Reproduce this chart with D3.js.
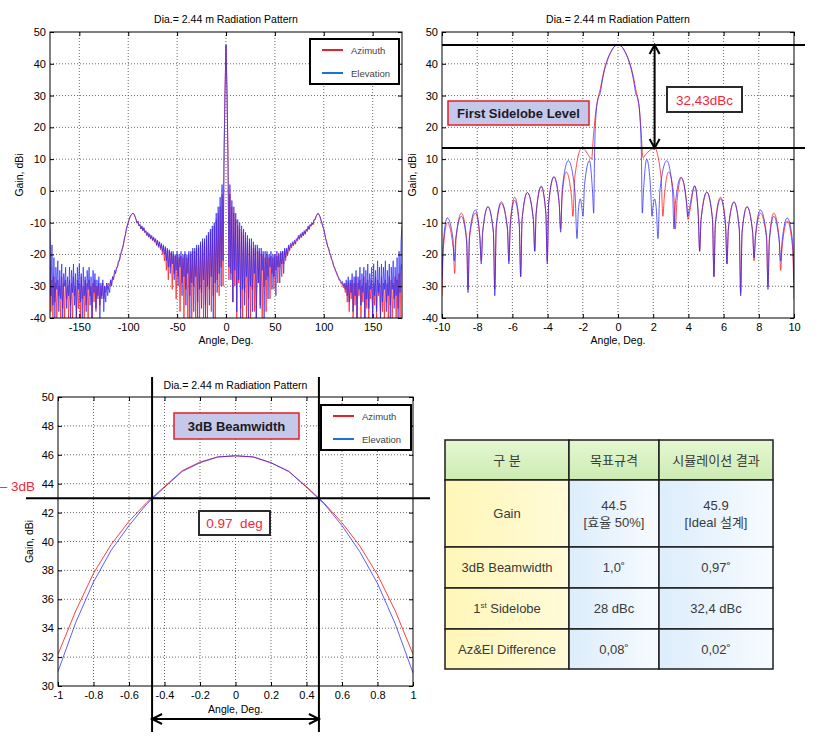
<!DOCTYPE html>
<html><head><meta charset="utf-8">
<script src="https://cdn.jsdelivr.net/npm/d3@7/dist/d3.min.js"></script>
<style>
body{margin:0;background:#fff}
svg{display:block}
text{font-family:"Liberation Sans",Arial,"Noto Sans CJK KR",sans-serif}
</style>
</head><body>
<svg id="c" width="817" height="736"></svg>
<script>
// ---------------- DATA ----------------
const titleText = "Dia.= 2.44 m Radiation Pattern";
const seriesNames = ["Azimuth", "Elevation"];
const xLabel = "Angle, Deg.";
const yLabel = "Gain, dBi";

// full pattern (-180..180, 1 deg)
const fullAngles = d3.range(-180, 181, 1);
const fullXTicks = [-150, -100, -50, 0, 50, 100, 150];
const gainTicks = [-40, -30, -20, -10, 0, 10, 20, 30, 40, 50];
const fullEl = [
 -12,-33,-17,-36,-21,-40,-24,-31,-22,-38,
 -25,-34,-23,-40,-26,-30,-24,-37,-27,-33,
 -24,-40,-25,-32,-23,-36,-26,-40,-24,-31,
 -23,-35,-26,-40,-24,-33,-27,-38,-25,-31,
 -24,-36,-27,-40,-25,-32,-26,-37,-28,-33,
 -27,-40,-29,-34,-28,-38,-30,-35,-29,-33,
 -30,-32,-28,-30,-27,-28,-25,-26,-24,-24,
 -22,-22,-20,-19,-18,-17,-15,-14,-12,-11,
 -10,-9,-8,-7.5,-7.2,-7,-7.3,-8,-9,-10,
 -9.5,-11,-10.5,-12,-11,-12.5,-11.5,-13,-12.5,-14,
 -13,-14.5,-13.5,-15,-14,-15.5,-14.5,-16,-15,-17,
 -15.5,-17.5,-16,-18,-16.5,-19,-17,-20,-17.5,-22,
 -18,-24,-18.5,-26,-19,-23,-19,-28,-20,-25,
 -19,-30,-20,-24,-19,-33,-20,-27,-19,-36,
 -20,-26,-19,-40,-19,-29,-18,-38,-18,-27,
 -17,-40,-17,-31,-16,-37,-15,-28,-15,-40,
 -14,-30,-13,-36,-12,-27,-11,-40,-10,-29,
 -7,-32,-5,-26,-2,-30,2,-22,9,31,
 46,
 31,9.5,-24,2,-28,-3,-35,-5,-25,-7,
 -38,-9,-28,-10,-40,-11,-31,-12,-36,-13,
 -27,-14,-40,-15,-30,-15,-38,-16,-26,-17,
 -40,-17,-29,-18,-37,-18,-25,-19,-40,-19,
 -28,-19,-34,-20,-24,-19,-31,-20,-27,-20,
 -33,-19,-24,-20,-29,-19,-23,-19,-26,-18,
 -21,-18,-20,-17,-18.5,-16.5,-17.5,-16,-17,-15.5,
 -16.5,-15,-15.5,-14,-15,-13.5,-14.5,-13,-14,-12.5,
 -13.5,-12,-12.5,-11,-12,-10.5,-11,-10,-10.5,-9,
 -9,-8,-7.5,-7,-7.3,-8,-9,-10,-11,-12,
 -13.5,-15,-16,-17.5,-18,-19.5,-20,-21.5,-22,-23.5,
 -24,-25,-25.5,-26.5,-27,-28,-28,-29,-28.5,-30,
 -29,-31,-28,-33,-27,-35,-28,-32,-26,-38,
 -27,-33,-25,-40,-27,-31,-24,-36,-26,-32,
 -24,-40,-25,-34,-23,-37,-26,-31,-24,-40,
 -23,-33,-25,-38,-22,-32,-24,-40,-23,-35,
 -24,-31,-22,-38,-25,-33,-23,-40,-24,-31,
 -22,-37,-24,-33,-21,-40,-19,-32,-16,-11
];
const fullAz = [
 -24,-38,-28,-40,-27,-35,-29,-40,-28,-33,
 -30,-40,-27,-37,-29,-40,-28,-34,-30,-40,
 -28,-36,-29,-40,-27,-33,-30,-40,-28,-37,
 -29,-40,-27,-34,-30,-40,-28,-36,-29,-40,
 -28,-33,-30,-40,-29,-35,-28,-38,-30,-34,
 -29,-36,-30,-33,-29,-34,-30,-32,-29,-31,
 -29,-30,-28,-29.5,-27,-27.5,-26,-26,-24.5,-24,
 -22.5,-22,-20.5,-19.5,-18.5,-17,-15.5,-14,-12.5,-11,
 -10,-9,-8.2,-7.6,-7.2,-7.1,-7.4,-8.2,-9,-10.2,
 -9.7,-11,-10.7,-12,-11.3,-12.6,-11.8,-13.2,-12.7,-14,
 -13.3,-14.6,-13.8,-15.2,-14.3,-15.7,-14.8,-16.2,-15.3,-17.2,
 -15.8,-17.8,-16.3,-18.5,-17,-20,-17.5,-22,-18,-25,
 -18.5,-28,-19,-24,-19.5,-31,-20,-26,-20.5,-34,
 -20,-27,-21,-38,-20.5,-29,-21,-40,-20,-31,
 -21,-40,-20,-33,-20,-40,-19,-30,-19,-40,
 -18,-35,-18,-40,-17,-32,-16,-40,-16,-36,
 -15,-40,-14,-31,-13,-38,-12,-33,-11,-40,
 -9,-28,-7,-33,-5,-24,-1,-30,13.7,32.2,
 45.9,
 32.2,13.5,-28,-1,-26,-5,-35,-7,-30,-9,
 -40,-11,-29,-12,-37,-13,-40,-14,-32,-15,
 -40,-16,-34,-16,-40,-17,-31,-18,-38,-18,
 -40,-19,-29,-19,-36,-20,-40,-20,-30,-21,
 -38,-20,-27,-21,-34,-20.5,-26,-21,-31,-20,
 -25,-20.5,-29,-19.5,-24,-19.5,-27,-19,-23,-18.5,
 -22,-18.3,-20.5,-17.5,-19,-17,-18,-16.5,-17.3,-16,
 -16.8,-15.4,-15.8,-14.5,-15.3,-14,-14.8,-13.4,-14.2,-12.9,
 -13.7,-12.3,-12.8,-11.4,-12.2,-10.8,-11.2,-10.2,-10.7,-9.2,
 -9.2,-8.2,-7.6,-7.1,-7.4,-8.1,-9.1,-10.1,-11.2,-12.2,
 -13.6,-15.2,-16.3,-17.6,-18.3,-19.6,-20.4,-21.6,-22.4,-23.6,
 -24.3,-25.2,-26,-26.8,-27.4,-28.3,-28.6,-29.4,-29,-30.5,
 -29.5,-32,-29,-35,-28.5,-38,-29,-34,-28,-40,
 -29,-36,-27,-40,-29,-33,-28,-40,-30,-35,
 -27,-40,-29,-37,-28,-40,-30,-34,-28,-40,
 -29,-36,-27,-40,-28,-33,-29,-40,-27,-38,
 -29,-40,-28,-35,-29,-40,-27,-36,-28,-40,
 -29,-34,-27,-40,-28,-37,-26,-40,-25,-23
];

// zoomed pattern (-10..10) as [angle, gain]
const zoomXTicks = [-10, -8, -6, -4, -2, 0, 2, 4, 6, 8, 10];
const zoomAz = [
 [-10,-33],[-9.92,-18],[-9.7,-10],[-9.36,-18],[-9.28,-26],
 [-9.2,-15],[-8.9,-7],[-8.6,-15],[-8.52,-31],
 [-8.44,-15],[-8.1,-7],[-7.85,-15],[-7.77,-22],
 [-7.69,-13],[-7.39,-5],[-7.08,-13],[-7.0,-31],
 [-6.92,-12],[-6.63,-4],[-6.28,-12],[-6.2,-22],
 [-6.12,-10],[-5.87,-2],[-5.61,-10],[-5.53,-27],
 [-5.45,-9],[-5.15,-0.5],[-4.81,-9],[-4.73,-19],
 [-4.65,-7],[-4.36,1.3],[-4.1,-7],[-4.02,-22],
 [-3.94,-4],[-3.64,4.3],[-3.34,-4],[-3.26,-12],
 [-3.18,-2],[-2.94,6],[-2.64,-2],[-2.56,-8],
 [-2.46,4],[-2.04,13.7],[-1.65,11],[-1.5,10],
 [-1.4,17],[-1.3,23],[-1.2,27.5],[-1.1,30],[-1.0,32.2],[-0.9,35.2],[-0.8,37.8],
 [-0.6,41.4],[-0.4,43.8],[-0.2,45.5],[0,45.93],[0.2,45.45],[0.4,43.8],[0.6,41.3],
 [0.8,37.7],[0.9,35.2],[1.0,32.2],[1.1,29.7],[1.2,26.5],[1.3,20],[1.42,10.5],
 [1.58,11.5],[2.08,13.5],[2.45,4],[2.55,-8],
 [2.63,-2],[2.88,6],[3.18,-2],[3.26,-12],
 [3.34,-4],[3.6,4.1],[3.9,-4],[3.98,-9],
 [4.06,-7],[4.36,1.5],[4.56,-7],[4.64,-19],
 [4.72,-9],[5.05,-0.4],[5.37,-9],[5.45,-27],
 [5.53,-10],[5.83,-2],[6.11,-10],[6.19,-23],
 [6.27,-12],[6.59,-3.5],[6.89,-12],[6.97,-32],
 [7.05,-13],[7.33,-5],[7.65,-13],[7.73,-22],
 [7.81,-15],[8.09,-7],[8.44,-15],[8.52,-30],
 [8.6,-15],[8.85,-7],[9.16,-15],[9.24,-25],
 [9.32,-18],[9.62,-9.5],[9.92,-18],[10,-34]
];
const zoomEl = [
 [-10,-27],[-9.92,-16],[-9.7,-8.5],[-9.38,-15],[-9.3,-22],
 [-9.22,-15],[-8.9,-8],[-8.6,-16],[-8.52,-32],
 [-8.44,-14],[-8.1,-6],[-7.85,-14],[-7.77,-23],
 [-7.69,-13],[-7.39,-5],[-7.08,-13],[-7.0,-33],
 [-6.92,-11],[-6.63,-3.5],[-6.28,-12],[-6.2,-23],
 [-6.12,-11],[-5.87,-3],[-5.61,-11],[-5.53,-27],
 [-5.45,-9],[-5.15,-0.5],[-4.81,-9],[-4.73,-19],
 [-4.65,-7],[-4.36,1.5],[-4.1,-7],[-4.02,-23],
 [-3.94,-4],[-3.64,4.5],[-3.34,-4],[-3.26,-13],
 [-3.16,1],[-2.82,9.5],[-2.45,0],[-2.33,-15],
 [-2.25,-6],[-2.14,-2.5],[-2.04,-6],[-1.99,-8],
 [-1.9,2],[-1.62,9.5],[-1.45,0],[-1.38,-7],
 [-1.33,12],[-1.25,24],[-1.15,28.5],[-1.0,31.0],[-0.9,34.4],[-0.8,37.2],
 [-0.6,41.1],[-0.4,43.75],[-0.2,45.45],[0,45.93],[0.2,45.45],[0.4,43.75],[0.6,41.1],
 [0.8,37.1],[0.9,34.3],[1.0,30.9],[1.15,28.3],[1.25,23],[1.33,11],
 [1.38,-7],[1.45,0],[1.63,10],[1.85,1],[1.93,-8],
 [1.99,-5],[2.08,-2.5],[2.18,-6],[2.27,-15],
 [2.38,0],[2.77,9.5],[3.1,0],[3.18,-12],
 [3.26,-4],[3.58,4.3],[3.9,-4],[3.96,-8],
 [4.04,-6],[4.36,1.6],[4.56,-8],[4.64,-19],
 [4.72,-9],[5.05,-0.4],[5.37,-9],[5.45,-27],
 [5.53,-11],[5.83,-2.5],[6.11,-11],[6.19,-23],
 [6.27,-12],[6.59,-3.5],[6.89,-12],[6.97,-33],
 [7.05,-13],[7.33,-5],[7.65,-13],[7.73,-21],
 [7.81,-14],[8.09,-6],[8.44,-14],[8.52,-31],
 [8.6,-16],[8.85,-8],[9.16,-16],[9.24,-22],
 [9.32,-16],[9.62,-8.5],[9.92,-16],[10,-29]
];

// main lobe (-1..1)
const mainAngles = [-1,-0.9,-0.8,-0.7,-0.6,-0.5,-0.4,-0.3,-0.2,-0.1,0,0.1,0.2,0.3,0.4,0.5,0.6,0.7,0.8,0.9,1];
const mainAz = [32.2,35.2,37.8,39.8,41.4,42.7,43.8,44.9,45.5,45.85,45.93,45.85,45.45,44.85,43.8,42.65,41.3,39.7,37.7,35.2,32.2];
const mainEl = [31.0,34.4,37.2,39.4,41.1,42.6,43.75,44.85,45.45,45.85,45.93,45.85,45.45,44.85,43.75,42.6,41.1,39.3,37.1,34.3,30.9];
const mainXTicks = [-1,-0.8,-0.6,-0.4,-0.2,0,0.2,0.4,0.6,0.8,1];
const mainYTicks = [30,32,34,36,38,40,42,44,46,48,50];

// annotations
const peakGain = 45.93;
const firstSidelobeGain = 13.5;
const firstSidelobeAngle = 2.08;
const sidelobeLabel = "32,43dBc";
const sidelobeTitle = "First Sidelobe Level";
const halfPowerGain = 43;
const halfPowerAngles = [-0.47, 0.47];
const beamLabel = "0.97  deg";
const beamTitle = "3dB Beamwidth";
const minus3Label = "\u2013 3dB";

// table
const tableHeader = ["구 분", "목표규격", "시뮬레이션 결과"];
const tableLabels = ["Gain", "3dB Beamwidth", "1st Sidelobe", "Az&El Difference"];
const tableTarget = [["44.5", "[효율 50%]"], ["1,0˚"], ["28 dBc"], ["0,08˚"]];
const tableResult = [["45.9", "[Ideal 설계]"], ["0,97˚"], ["32,4 dBc"], ["0,02˚"]];

// ---------------- DRAW ----------------
const RED = "#ff1e1e", BLUE = "#2a2aff";
const LEG_RED = "#e8202c", LEG_BLUE = "#1e6fd6";
const svg = d3.select("#c");
const defs = svg.append("defs");
let clipId = 0;

function panel(o) {
  const x = d3.scaleLinear().domain(o.xd).range([o.x0, o.x1]);
  const y = d3.scaleLinear().domain(o.yd).range([o.y1, o.y0]);
  const g = svg.append("g");
  const w = o.x1 - o.x0, h = o.y1 - o.y0;
  g.append("rect").attr("x", o.x0).attr("y", o.y0).attr("width", w).attr("height", h).attr("fill", "#fff");
  g.append("g").selectAll("line").data(o.xt.filter(d => d !== o.xd[0] && d !== o.xd[1])).join("line")
    .attr("x1", d => x(d)).attr("x2", d => x(d)).attr("y1", o.y0).attr("y2", o.y1)
    .attr("stroke", "#6a6a6a").attr("stroke-width", 1).attr("stroke-dasharray", "1,2");
  g.append("g").selectAll("line").data(o.yt.filter(d => d !== o.yd[0] && d !== o.yd[1])).join("line")
    .attr("y1", d => y(d)).attr("y2", d => y(d)).attr("x1", o.x0).attr("x2", o.x1)
    .attr("stroke", "#6a6a6a").attr("stroke-width", 1).attr("stroke-dasharray", "1,2");
  const id = "clip" + (clipId++);
  defs.append("clipPath").attr("id", id).append("rect").attr("x", o.x0).attr("y", o.y0).attr("width", w).attr("height", h);
  const plot = g.append("g").attr("clip-path", `url(#${id})`);
  const fmt = d => String(d);
  const styleAx = sel => {
    sel.select(".domain").remove();
    sel.selectAll("line").attr("stroke", "#000");
    sel.selectAll("text").attr("font-size", 11).attr("fill", "#000").attr("font-family", '"Liberation Sans",Arial,sans-serif');
  };
  const axG = svg.append("g");
  axG.append("g").attr("transform", `translate(0,${o.y1})`).call(d3.axisBottom(x).tickValues(o.xt).tickSize(-4).tickPadding(5).tickFormat(fmt)).call(styleAx);
  axG.append("g").attr("transform", `translate(0,${o.y0})`).call(d3.axisTop(x).tickValues(o.xt).tickSize(-4).tickFormat("")).call(styleAx);
  axG.append("g").attr("transform", `translate(${o.x0},0)`).call(d3.axisLeft(y).tickValues(o.yt).tickSize(-4).tickPadding(4).tickFormat(fmt)).call(styleAx);
  axG.append("g").attr("transform", `translate(${o.x1},0)`).call(d3.axisRight(y).tickValues(o.yt).tickSize(-4).tickFormat("")).call(styleAx);
  axG.append("rect").attr("x", o.x0).attr("y", o.y0).attr("width", w).attr("height", h).attr("fill", "none").attr("stroke", "#000").attr("stroke-width", 1);
  const cx = (o.x0 + o.x1) / 2;
  axG.append("text").attr("x", cx).attr("y", o.titleY).attr("text-anchor", "middle").attr("font-size", 10.5).text(titleText);
  axG.append("text").attr("x", cx).attr("y", o.xlY).attr("text-anchor", "middle").attr("font-size", 10.5).text(xLabel);
  axG.append("text").attr("transform", `translate(${o.ylX},${(o.y0 + o.y1) / 2}) rotate(-90)`).attr("text-anchor", "middle").attr("font-size", 10.5).text(yLabel);
  return { x, y, g, plot, axG };
}

function legend(x0, y0, w, h) {
  const g = svg.append("g");
  g.append("rect").attr("x", x0).attr("y", y0).attr("width", w).attr("height", h).attr("fill", "#fff").attr("stroke", "#000").attr("stroke-width", 2);
  const cols = [LEG_RED, LEG_BLUE];
  seriesNames.forEach((n, i) => {
    const yy = y0 + 11 + i * 23;
    g.append("line").attr("x1", x0 + 12).attr("x2", x0 + 33).attr("y1", yy).attr("y2", yy).attr("stroke", cols[i]).attr("stroke-width", 2);
    g.append("text").attr("x", x0 + 41).attr("y", yy + 3.5).attr("font-size", 9.5).attr("fill", "#444").text(n);
  });
}

function arrowV(x, ya, yb) {
  const g = svg.append("g").attr("stroke", "#000").attr("stroke-width", 2).attr("fill", "none");
  g.append("line").attr("x1", x).attr("x2", x).attr("y1", ya).attr("y2", yb);
  g.append("polyline").attr("points", `${x - 5},${ya + 9} ${x},${ya} ${x + 5},${ya + 9}`);
  g.append("polyline").attr("points", `${x - 5},${yb - 9} ${x},${yb} ${x + 5},${yb - 9}`);
}
function arrowH(y, xa, xb) {
  const g = svg.append("g").attr("stroke", "#000").attr("stroke-width", 2).attr("fill", "none");
  g.append("line").attr("x1", xa).attr("x2", xb).attr("y1", y).attr("y2", y);
  g.append("polyline").attr("points", `${xa + 10},${y - 5} ${xa},${y} ${xa + 10},${y + 5}`);
  g.append("polyline").attr("points", `${xb - 10},${y - 5} ${xb},${y} ${xb - 10},${y + 5}`);
}
function labelBox(x, y, w, h, txt, kind) {
  const g = svg.append("g");
  if (kind === "title") {
    g.append("rect").attr("x", x).attr("y", y).attr("width", w).attr("height", h).attr("fill", "#c6c8ea").attr("stroke", "#e02028").attr("stroke-width", 1.5);
    g.append("text").attr("x", x + w / 2).attr("y", y + h / 2 + 4.5).attr("text-anchor", "middle").attr("font-size", 13).attr("font-weight", "bold").attr("fill", "#1a1a24").text(txt);
  } else {
    g.append("rect").attr("x", x).attr("y", y).attr("width", w).attr("height", h).attr("fill", "#fff").attr("stroke", "#2a2a2a").attr("stroke-width", 2);
    g.append("text").attr("x", x + w / 2).attr("y", y + h / 2 + 5).attr("text-anchor", "middle").attr("font-size", 13.5).attr("fill", "#f0283a").style("white-space", "pre").text(txt);
  }
}

// ---- Panel 1: full pattern ----
const p1 = panel({ x0: 50, x1: 402, y0: 32, y1: 318, xd: [-180, 180], yd: [-40, 50], xt: fullXTicks, yt: gainTicks, titleY: 23, xlY: 344, ylX: 23 });
const line1 = d3.line().x((d, i) => p1.x(fullAngles[i])).y(d => p1.y(d));
p1.plot.append("path").datum(fullAz).attr("d", line1).attr("fill", "none").attr("stroke", RED).attr("stroke-width", 0.9).attr("stroke-opacity", 0.85);
p1.plot.append("path").datum(fullEl).attr("d", line1).attr("fill", "none").attr("stroke", BLUE).attr("stroke-width", 0.9).attr("stroke-opacity", 0.8);
legend(310, 39, 89, 45);

// ---- Panel 2: zoom -10..10 ----
const p2 = panel({ x0: 442, x1: 794, y0: 32, y1: 318, xd: [-10, 10], yd: [-40, 50], xt: zoomXTicks, yt: gainTicks, titleY: 23, xlY: 344, ylX: 416 });
const line2 = d3.line().x(d => p2.x(d[0])).y(d => p2.y(d[1])).curve(d3.curveMonotoneX);
p2.plot.append("path").datum(zoomAz).attr("d", line2).attr("fill", "none").attr("stroke", RED).attr("stroke-width", 1).attr("stroke-opacity", 0.8);
p2.plot.append("path").datum(zoomEl).attr("d", line2).attr("fill", "none").attr("stroke", BLUE).attr("stroke-width", 1).attr("stroke-opacity", 0.75);
[peakGain, firstSidelobeGain].forEach(v => {
  svg.append("line").attr("x1", 442).attr("x2", 805).attr("y1", p2.y(v)).attr("y2", p2.y(v)).attr("stroke", "#000").attr("stroke-width", 2);
});
arrowV(p2.x(firstSidelobeAngle), p2.y(peakGain), p2.y(firstSidelobeGain));
labelBox(667, 87, 75, 25, sidelobeLabel, "value");
labelBox(448, 101, 141, 24, sidelobeTitle, "title");

// ---- Panel 3: main lobe ----
const p3 = panel({ x0: 58, x1: 413, y0: 397, y1: 686, xd: [-1, 1], yd: [30, 50], xt: mainXTicks, yt: mainYTicks, titleY: 389, xlY: 713, ylX: 33 });
const line3 = d3.line().x((d, i) => p3.x(mainAngles[i])).y(d => p3.y(d));
p3.plot.append("path").datum(mainAz).attr("d", line3).attr("fill", "none").attr("stroke", RED).attr("stroke-width", 1).attr("stroke-opacity", 0.85);
p3.plot.append("path").datum(mainEl).attr("d", line3).attr("fill", "none").attr("stroke", BLUE).attr("stroke-width", 1).attr("stroke-opacity", 0.75);
legend(321, 405, 90, 45);
svg.append("line").attr("x1", 26).attr("x2", 430).attr("y1", p3.y(halfPowerGain)).attr("y2", p3.y(halfPowerGain)).attr("stroke", "#000").attr("stroke-width", 2);
halfPowerAngles.forEach(a => {
  svg.append("line").attr("x1", p3.x(a)).attr("x2", p3.x(a)).attr("y1", 377).attr("y2", 732).attr("stroke", "#000").attr("stroke-width", 2);
});
arrowH(719, p3.x(halfPowerAngles[0]), p3.x(halfPowerAngles[1]));
labelBox(174, 413, 125, 26, beamTitle, "title");
labelBox(199, 511, 71, 24, beamLabel, "value");
svg.append("text").attr("x", 35).attr("y", 491).attr("text-anchor", "end").attr("font-size", 13.5).attr("fill", "#f0283a").text(minus3Label);

// ---- Table ----
const colX = [445, 569, 659, 773];
const rowY = [440, 480, 547, 588, 629, 669];
const gHead = defs.append("linearGradient").attr("id", "gHead").attr("x1", 0).attr("x2", 0).attr("y1", 0).attr("y2", 1);
gHead.append("stop").attr("offset", 0).attr("stop-color", "#e4f7d2");
gHead.append("stop").attr("offset", 1).attr("stop-color", "#cdebb2");
const gYel = defs.append("linearGradient").attr("id", "gYel").attr("x1", 0).attr("x2", 1).attr("y1", 0).attr("y2", 0);
gYel.append("stop").attr("offset", 0).attr("stop-color", "#fff6b8");
gYel.append("stop").attr("offset", 1).attr("stop-color", "#fffbd8");
const gBlue = defs.append("linearGradient").attr("id", "gBlue").attr("x1", 0).attr("x2", 1).attr("y1", 0).attr("y2", 0);
gBlue.append("stop").attr("offset", 0).attr("stop-color", "#dcedfb");
gBlue.append("stop").attr("offset", 1).attr("stop-color", "#f7fbff");
const tg = svg.append("g");
for (let r = 0; r < 5; r++) {
  for (let c = 0; c < 3; c++) {
    const fill = r === 0 ? "url(#gHead)" : (c === 0 ? "url(#gYel)" : "url(#gBlue)");
    tg.append("rect").attr("x", colX[c]).attr("y", rowY[r]).attr("width", colX[c + 1] - colX[c]).attr("height", rowY[r + 1] - rowY[r])
      .attr("fill", fill).attr("stroke", "#1e1e1e").attr("stroke-width", 1.5);
  }
}
const cellText = (c, r, lines) => {
  const cx = (colX[c] + colX[c + 1]) / 2, cy = (rowY[r] + rowY[r + 1]) / 2;
  const n = lines.length;
  lines.forEach((t, i) => {
    tg.append("text").attr("x", cx).attr("y", cy + 4.5 + (i - (n - 1) / 2) * 17).attr("text-anchor", "middle")
      .attr("font-size", 13).attr("fill", "#3a3a3a").attr("font-family", '"Liberation Sans","Noto Sans CJK KR",sans-serif').text(t);
  });
};
tableHeader.forEach((t, c) => cellText(c, 0, [t]));
tableLabels.forEach((t, i) => {
  if (t.startsWith("1st")) {
    const cx = (colX[0] + colX[1]) / 2, cy = (rowY[3] + rowY[4]) / 2;
    const tx = tg.append("text").attr("x", cx).attr("y", cy + 4.5).attr("text-anchor", "middle").attr("font-size", 13).attr("fill", "#3a3a3a");
    tx.append("tspan").text("1");
    tx.append("tspan").attr("font-size", 8).attr("dy", -5).text("st");
    tx.append("tspan").attr("dy", 5).text(" Sidelobe");
  } else cellText(0, i + 1, [t]);
});
tableTarget.forEach((l, i) => cellText(1, i + 1, l));
tableResult.forEach((l, i) => cellText(2, i + 1, l));
</script>
</body></html>
